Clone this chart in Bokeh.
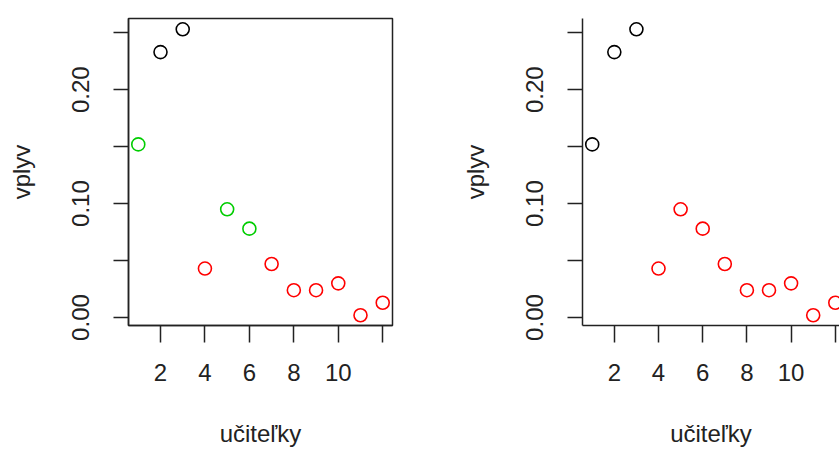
from bokeh.plotting import figure
from bokeh.layouts import row
from bokeh.models import FixedTicker, CustomJSTickFormatter, Range1d, ColumnDataSource
from bokeh.embed import file_html
from bokeh.resources import INLINE

# data
ucitelky = list(range(1, 13))
vplyv = [0.152, 0.233, 0.253, 0.043, 0.095, 0.078, 0.047, 0.024, 0.024, 0.030, 0.002, 0.013]
colors_left = ["#00CD00", "black", "black", "red", "#00CD00", "#00CD00",
               "red", "red", "red", "red", "red", "red"]
colors_right = ["black", "black", "black", "red", "red", "red",
                "red", "red", "red", "red", "red", "red"]
x_ticks = [2, 4, 6, 8, 10, 12]
y_ticks = [0.0, 0.05, 0.10, 0.15, 0.20, 0.25]
x_label = "učiteľky"
y_label = "vplyv"

FONT = "Liberation Sans"


def make_panel(colors, width, border_left, border_right, x_end):
    p = figure(width=width, height=449, output_backend="svg", toolbar_location=None,
               min_border_left=border_left, min_border_right=border_right,
               min_border_top=18, min_border_bottom=124,
               x_range=Range1d(0.56, x_end), y_range=Range1d(-0.007, 0.2625))
    p.grid.visible = False
    p.outline_line_color = "#222222"
    p.outline_line_width = 1.5
    p.background_fill_color = "white"
    p.border_fill_color = "white"

    src = ColumnDataSource(dict(x=ucitelky, y=vplyv, c=colors))
    p.scatter("x", "y", source=src, marker="circle", size=13, fill_color=None,
              line_color="c", line_width=1.6)

    xa = p.xaxis[0]
    xa.ticker = FixedTicker(ticks=x_ticks)
    xa.formatter = CustomJSTickFormatter(code="return tick >= 11 ? '' : String(tick);")
    xa.minor_tick_line_color = None
    xa.major_tick_out = 17
    xa.major_tick_in = 0
    xa.major_tick_line_color = "#222222"
    xa.major_tick_line_width = 1.5
    xa.axis_line_color = "#222222"
    xa.axis_line_width = 1.5
    xa.major_label_text_font = FONT
    xa.major_label_text_font_size = "24px"
    xa.major_label_text_color = "#222222"
    xa.major_label_standoff = 21
    xa.axis_label = x_label
    xa.axis_label_text_font = FONT
    xa.axis_label_text_font_size = "24px"
    xa.axis_label_text_font_style = "normal"
    xa.axis_label_text_color = "#222222"
    xa.axis_label_standoff = 36

    ya = p.yaxis[0]
    ya.ticker = FixedTicker(ticks=y_ticks)
    ya.formatter = CustomJSTickFormatter(
        code="var k = Math.round(tick * 100); return (k % 10 === 0) ? tick.toFixed(2) : '';")
    ya.minor_tick_line_color = None
    ya.major_tick_out = 15
    ya.major_tick_in = 0
    ya.major_tick_line_color = "#222222"
    ya.major_tick_line_width = 1.5
    ya.axis_line_color = "#222222"
    ya.axis_line_width = 1.5
    ya.major_label_orientation = "vertical"
    ya.major_label_text_font = FONT
    ya.major_label_text_font_size = "24px"
    ya.major_label_text_color = "#222222"
    ya.major_label_standoff = 24
    ya.axis_label = y_label
    ya.axis_label_text_font = FONT
    ya.axis_label_text_font_size = "24px"
    ya.axis_label_text_font_style = "normal"
    ya.axis_label_text_color = "#222222"
    ya.axis_label_standoff = 35
    return p


left = make_panel(colors_left, 454, 128, 62, 12.44)
right = make_panel(colors_right, 385, 128, 0, 12.19)
right.outline_line_color = None

layout = row(left, right, spacing=0)

open("out.html", "w").write(file_html(layout, INLINE))
